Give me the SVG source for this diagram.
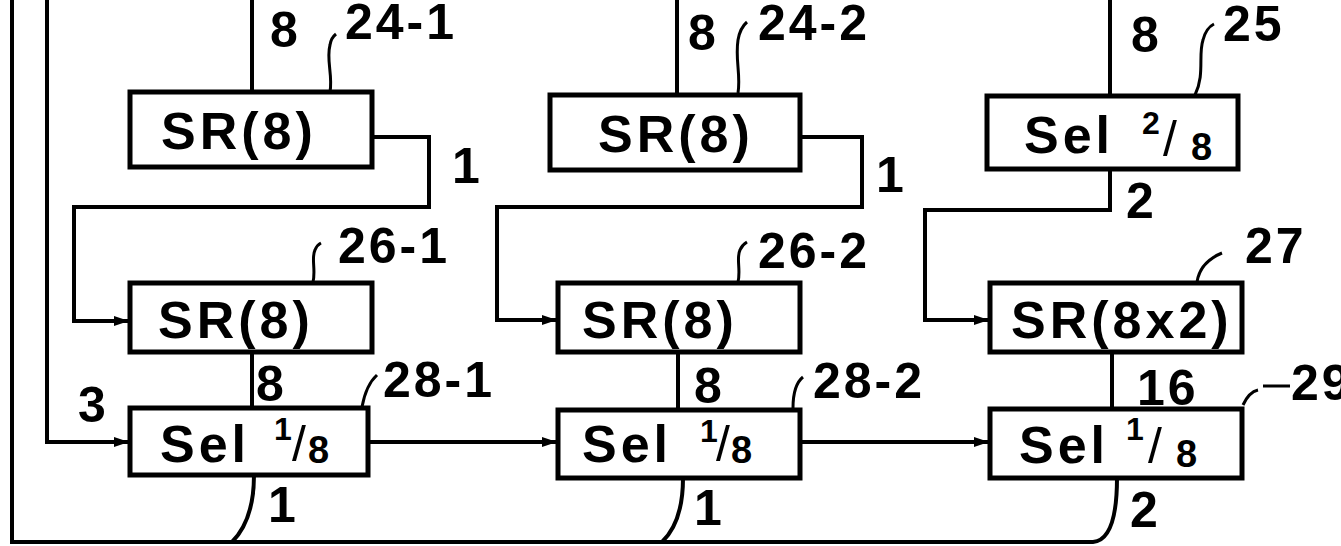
<svg xmlns="http://www.w3.org/2000/svg" width="1341" height="546" viewBox="0 0 1341 546">
<style>
.box{fill:#fff;stroke:#000;stroke-width:5}
.ln{fill:none;stroke:#000;stroke-width:4;stroke-linejoin:miter}
.ld{fill:none;stroke:#000;stroke-width:3}
text{font-family:"Liberation Sans","DejaVu Sans",sans-serif;font-weight:bold;fill:#000}
.bt{font-size:52px;letter-spacing:4px}
.lb{font-size:50px;letter-spacing:3px}
.sup{font-size:32px}
.sub{font-size:38px}
.sl{font-size:50px;font-weight:normal}
</style>
<defs>
<marker id="ar" markerWidth="16" markerHeight="12" refX="14" refY="6" orient="auto" markerUnits="userSpaceOnUse">
<path d="M0,1 L15,6 L0,11 Z" fill="#000"/>
</marker>
</defs>
<rect width="1341" height="546" fill="#fff"/>
<g id="connectors">
<path class="ln" d="M12,0 V542 H1093 Q1117,540 1117,478"/>
<path class="ln" d="M47,0 V442 H128" marker-end="url(#ar)"/>
<path class="ln" d="M252,0 V92"/>
<path class="ln" d="M677,0 V95"/>
<path class="ln" d="M1110,0 V95"/>
<path class="ln" d="M372,137 H429 V207 H74 V321 H128" marker-end="url(#ar)"/>
<path class="ln" d="M800,137 H862 V207 H497 V320 H556" marker-end="url(#ar)"/>
<path class="ln" d="M1110,170 V210 H925 V320 H988" marker-end="url(#ar)"/>
<path class="ln" d="M252,352 V407"/>
<path class="ln" d="M678,352 V410"/>
<path class="ln" d="M1112,352 V408"/>
<path class="ln" d="M368,442 H556" marker-end="url(#ar)"/>
<path class="ln" d="M800,442 H988" marker-end="url(#ar)"/>
<path class="ln" d="M254,475 Q254,520 232,542"/>
<path class="ln" d="M683,478 Q683,522 662,542"/>
</g>
<g id="leaders">
<path class="ld" d="M330,92 C333,75 326,60 330,45 Q331,38 336,34"/>
<path class="ld" d="M738,93 C741,75 735,60 738,40 Q740,28 747,22"/>
<path class="ld" d="M1195,95 C1205,75 1198,55 1203,40 Q1206,28 1214,24"/>
<path class="ld" d="M313,282 C316,270 311,258 315,250 Q317,245 321,243"/>
<path class="ld" d="M738,282 C741,270 736,258 740,250 Q742,245 747,242"/>
<path class="ld" d="M1197,282 Q1200,262 1222,253"/>
<path class="ld" d="M362,407 Q366,385 377,375"/>
<path class="ld" d="M793,408 Q793,385 803,377"/>
<path class="ld" d="M1243,405 Q1249,392 1258,390 M1263,386 H1290"/>
</g>
<g id="n24-1">
<rect class="box" x="130" y="92" width="242" height="75"/>
<text class="bt" x="161" y="149">SR(8)</text>
</g>
<g id="n24-2">
<rect class="box" x="550" y="95" width="250" height="75"/>
<text class="bt" x="598" y="152">SR(8)</text>
</g>
<g id="n25">
<rect class="box" x="987" y="96" width="251" height="73"/>
<text class="bt" x="1024" y="153">Sel</text>
<text class="sup" x="1142" y="134">2</text>
<text class="sl" x="1163" y="156">/</text>
<text class="sub" x="1191" y="160">8</text>
</g>
<g id="n26-1">
<rect class="box" x="130" y="283" width="242" height="69"/>
<text class="bt" x="158" y="338">SR(8)</text>
</g>
<g id="n26-2">
<rect class="box" x="558" y="283" width="242" height="69"/>
<text class="bt" x="582" y="338">SR(8)</text>
</g>
<g id="n27">
<rect class="box" x="990" y="283" width="252" height="69"/>
<text class="bt" x="1011" y="338" letter-spacing="0">SR(8x2)</text>
</g>
<g id="n28-1">
<rect class="box" x="130" y="408" width="238" height="67"/>
<text class="bt" x="160" y="462">Sel</text>
<text class="sup" x="274" y="440">1</text>
<text class="sl" x="292" y="461">/</text>
<text class="sub" x="308" y="463">8</text>
</g>
<g id="n28-2">
<rect class="box" x="558" y="410" width="242" height="68"/>
<text class="bt" x="582" y="462">Sel</text>
<text class="sup" x="700" y="442">1</text>
<text class="sl" x="716" y="461">/</text>
<text class="sub" x="731" y="463">8</text>
</g>
<g id="n29">
<rect class="box" x="990" y="409" width="252" height="69"/>
<text class="bt" x="1019" y="463">Sel</text>
<text class="sup" x="1126" y="440">1</text>
<text class="sl" x="1148" y="463">/</text>
<text class="sub" x="1176" y="467">8</text>
</g>
<g id="labels">
<text class="lb" x="270" y="47">8</text>
<text class="lb" x="345" y="39">24-1</text>
<text class="lb" x="688" y="50">8</text>
<text class="lb" x="758" y="40">24-2</text>
<text class="lb" x="1131" y="52">8</text>
<text class="lb" x="1223" y="41">25</text>
<text class="lb" x="452" y="183">1</text>
<text class="lb" x="876" y="192">1</text>
<text class="lb" x="1126" y="218">2</text>
<text class="lb" x="338" y="263">26-1</text>
<text class="lb" x="758" y="268">26-2</text>
<text class="lb" x="1245" y="263">27</text>
<text class="lb" x="256" y="401">8</text>
<text class="lb" x="694" y="403">8</text>
<text class="lb" x="1137" y="405">16</text>
<text class="lb" x="383" y="397">28-1</text>
<text class="lb" x="813" y="398">28-2</text>
<text class="lb" x="1291" y="400">29</text>
<text class="lb" x="78" y="422">3</text>
<text class="lb" x="268" y="522">1</text>
<text class="lb" x="694" y="525">1</text>
<text class="lb" x="1130" y="527">2</text>
</g>
</svg>
